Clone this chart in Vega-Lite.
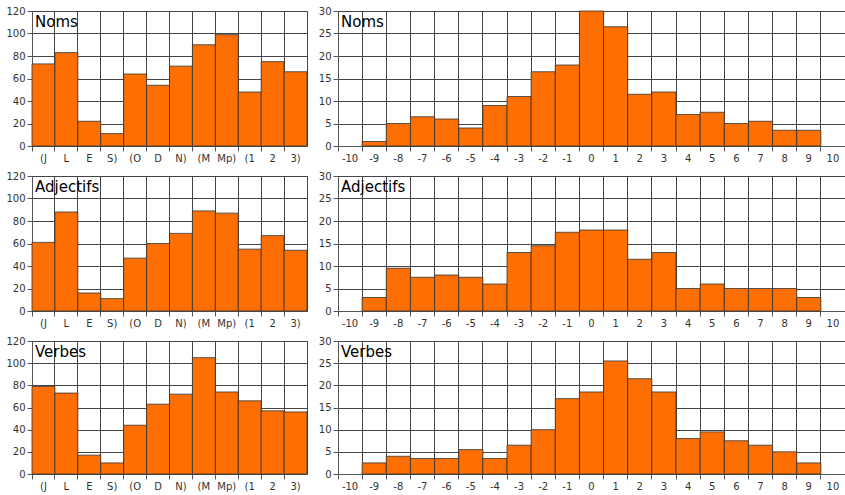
{
  "$schema": "https://vega.github.io/schema/vega-lite/v6.json",
  "padding": {"left": 5, "top": 5, "right": 0, "bottom": 0},
  "background": "white",
  "config": {
    "view": {"stroke": "#444", "strokeWidth": 1},
    "axis": {
      "labelFont": "DejaVu Sans", "labelFontSize": 10, "labelColor": "#333",
      "tickColor": "#555", "domainColor": "#555", "gridColor": "#444", "gridOpacity": 1,
      "labelAngle": 0, "title": null, "tickSize": 5, "labelPadding": 2
    },
    "title": {
      "font": "DejaVu Sans", "fontSize": 15, "fontWeight": "normal", "color": "#000",
      "anchor": "start", "frame": "group", "offset": -24, "dx": 3
    },
    "bar": {"fill": "#ff6e00", "stroke": "#333", "strokeWidth": 0.8}
  },
  "datasets": {
    "cats": [
      {"g": "Noms", "c": "(J", "v": 73}, {"g": "Noms", "c": "L", "v": 83}, {"g": "Noms", "c": "E", "v": 22}, {"g": "Noms", "c": "S)", "v": 11},
      {"g": "Noms", "c": "(O", "v": 64}, {"g": "Noms", "c": "D", "v": 54}, {"g": "Noms", "c": "N)", "v": 71},
      {"g": "Noms", "c": "(M", "v": 90}, {"g": "Noms", "c": "Mp)", "v": 99},
      {"g": "Noms", "c": "(1", "v": 48}, {"g": "Noms", "c": "2", "v": 75}, {"g": "Noms", "c": "3)", "v": 66},
      {"g": "Adjectifs", "c": "(J", "v": 61}, {"g": "Adjectifs", "c": "L", "v": 88}, {"g": "Adjectifs", "c": "E", "v": 16}, {"g": "Adjectifs", "c": "S)", "v": 11},
      {"g": "Adjectifs", "c": "(O", "v": 47}, {"g": "Adjectifs", "c": "D", "v": 60}, {"g": "Adjectifs", "c": "N)", "v": 69},
      {"g": "Adjectifs", "c": "(M", "v": 89}, {"g": "Adjectifs", "c": "Mp)", "v": 87},
      {"g": "Adjectifs", "c": "(1", "v": 55}, {"g": "Adjectifs", "c": "2", "v": 67}, {"g": "Adjectifs", "c": "3)", "v": 54},
      {"g": "Verbes", "c": "(J", "v": 79}, {"g": "Verbes", "c": "L", "v": 73}, {"g": "Verbes", "c": "E", "v": 17}, {"g": "Verbes", "c": "S)", "v": 10},
      {"g": "Verbes", "c": "(O", "v": 44}, {"g": "Verbes", "c": "D", "v": 63}, {"g": "Verbes", "c": "N)", "v": 72},
      {"g": "Verbes", "c": "(M", "v": 105}, {"g": "Verbes", "c": "Mp)", "v": 74},
      {"g": "Verbes", "c": "(1", "v": 66}, {"g": "Verbes", "c": "2", "v": 57}, {"g": "Verbes", "c": "3)", "v": 56}
    ],
    "hist": [
      {"g": "Noms", "x": -9, "v": 1}, {"g": "Noms", "x": -8, "v": 5}, {"g": "Noms", "x": -7, "v": 6.5}, {"g": "Noms", "x": -6, "v": 6},
      {"g": "Noms", "x": -5, "v": 4}, {"g": "Noms", "x": -4, "v": 9}, {"g": "Noms", "x": -3, "v": 11}, {"g": "Noms", "x": -2, "v": 16.5},
      {"g": "Noms", "x": -1, "v": 18}, {"g": "Noms", "x": 0, "v": 30}, {"g": "Noms", "x": 1, "v": 26.5}, {"g": "Noms", "x": 2, "v": 11.5},
      {"g": "Noms", "x": 3, "v": 12}, {"g": "Noms", "x": 4, "v": 7}, {"g": "Noms", "x": 5, "v": 7.5}, {"g": "Noms", "x": 6, "v": 5},
      {"g": "Noms", "x": 7, "v": 5.5}, {"g": "Noms", "x": 8, "v": 3.5}, {"g": "Noms", "x": 9, "v": 3.5},
      {"g": "Adjectifs", "x": -9, "v": 3}, {"g": "Adjectifs", "x": -8, "v": 9.5}, {"g": "Adjectifs", "x": -7, "v": 7.5}, {"g": "Adjectifs", "x": -6, "v": 8},
      {"g": "Adjectifs", "x": -5, "v": 7.5}, {"g": "Adjectifs", "x": -4, "v": 6}, {"g": "Adjectifs", "x": -3, "v": 13}, {"g": "Adjectifs", "x": -2, "v": 14.5},
      {"g": "Adjectifs", "x": -1, "v": 17.5}, {"g": "Adjectifs", "x": 0, "v": 18}, {"g": "Adjectifs", "x": 1, "v": 18}, {"g": "Adjectifs", "x": 2, "v": 11.5},
      {"g": "Adjectifs", "x": 3, "v": 13}, {"g": "Adjectifs", "x": 4, "v": 5}, {"g": "Adjectifs", "x": 5, "v": 6}, {"g": "Adjectifs", "x": 6, "v": 5},
      {"g": "Adjectifs", "x": 7, "v": 5}, {"g": "Adjectifs", "x": 8, "v": 5}, {"g": "Adjectifs", "x": 9, "v": 3},
      {"g": "Verbes", "x": -9, "v": 2.5}, {"g": "Verbes", "x": -8, "v": 4}, {"g": "Verbes", "x": -7, "v": 3.5}, {"g": "Verbes", "x": -6, "v": 3.5},
      {"g": "Verbes", "x": -5, "v": 5.5}, {"g": "Verbes", "x": -4, "v": 3.5}, {"g": "Verbes", "x": -3, "v": 6.5}, {"g": "Verbes", "x": -2, "v": 10},
      {"g": "Verbes", "x": -1, "v": 17}, {"g": "Verbes", "x": 0, "v": 18.5}, {"g": "Verbes", "x": 1, "v": 25.5}, {"g": "Verbes", "x": 2, "v": 21.5},
      {"g": "Verbes", "x": 3, "v": 18.5}, {"g": "Verbes", "x": 4, "v": 8}, {"g": "Verbes", "x": 5, "v": 9.5}, {"g": "Verbes", "x": 6, "v": 7.5},
      {"g": "Verbes", "x": 7, "v": 6.5}, {"g": "Verbes", "x": 8, "v": 5}, {"g": "Verbes", "x": 9, "v": 2.5}
    ]
  },
  "columns": 2,
  "align": "each",
  "spacing": {"row": 6, "column": 9},
  "concat": [
    {
      "title": "Noms", "width": 275, "height": 135,
      "data": {"name": "cats"}, "transform": [{"filter": "datum.g === 'Noms'"}],
      "mark": "bar",
      "encoding": {
        "x": {"field": "c", "type": "nominal", "scale": {"domain": ["(J","L","E","S)","(O","D","N)","(M","Mp)","(1","2","3)"], "paddingInner": 0, "paddingOuter": 0}, "axis": {"bandPosition": 0, "grid": true}},
        "y": {"field": "v", "type": "quantitative", "scale": {"domain": [0, 120], "nice": false}, "axis": {"values": [0,20,40,60,80,100,120], "grid": true}}
      }
    },
    {
      "title": "Noms", "width": 507, "height": 135,
      "data": {"name": "hist"}, "transform": [{"filter": "datum.g === 'Noms'"}],
      "mark": "bar",
      "encoding": {
        "x": {"field": "x", "type": "ordinal", "scale": {"domain": [-10,-9,-8,-7,-6,-5,-4,-3,-2,-1,0,1,2,3,4,5,6,7,8,9,10], "paddingInner": 0, "paddingOuter": 0}, "axis": {"bandPosition": 0, "grid": true}},
        "y": {"field": "v", "type": "quantitative", "scale": {"domain": [0, 30], "nice": false}, "axis": {"values": [0,5,10,15,20,25,30], "grid": true}}
      }
    },
    {
      "title": "Adjectifs", "width": 275, "height": 135,
      "data": {"name": "cats"}, "transform": [{"filter": "datum.g === 'Adjectifs'"}],
      "mark": "bar",
      "encoding": {
        "x": {"field": "c", "type": "nominal", "scale": {"domain": ["(J","L","E","S)","(O","D","N)","(M","Mp)","(1","2","3)"], "paddingInner": 0, "paddingOuter": 0}, "axis": {"bandPosition": 0, "grid": true}},
        "y": {"field": "v", "type": "quantitative", "scale": {"domain": [0, 120], "nice": false}, "axis": {"values": [0,20,40,60,80,100,120], "grid": true}}
      }
    },
    {
      "title": "Adjectifs", "width": 507, "height": 135,
      "data": {"name": "hist"}, "transform": [{"filter": "datum.g === 'Adjectifs'"}],
      "mark": "bar",
      "encoding": {
        "x": {"field": "x", "type": "ordinal", "scale": {"domain": [-10,-9,-8,-7,-6,-5,-4,-3,-2,-1,0,1,2,3,4,5,6,7,8,9,10], "paddingInner": 0, "paddingOuter": 0}, "axis": {"bandPosition": 0, "grid": true}},
        "y": {"field": "v", "type": "quantitative", "scale": {"domain": [0, 30], "nice": false}, "axis": {"values": [0,5,10,15,20,25,30], "grid": true}}
      }
    },
    {
      "title": "Verbes", "width": 275, "height": 133,
      "data": {"name": "cats"}, "transform": [{"filter": "datum.g === 'Verbes'"}],
      "mark": "bar",
      "encoding": {
        "x": {"field": "c", "type": "nominal", "scale": {"domain": ["(J","L","E","S)","(O","D","N)","(M","Mp)","(1","2","3)"], "paddingInner": 0, "paddingOuter": 0}, "axis": {"bandPosition": 0, "grid": true}},
        "y": {"field": "v", "type": "quantitative", "scale": {"domain": [0, 120], "nice": false}, "axis": {"values": [0,20,40,60,80,100,120], "grid": true}}
      }
    },
    {
      "title": "Verbes", "width": 507, "height": 133,
      "data": {"name": "hist"}, "transform": [{"filter": "datum.g === 'Verbes'"}],
      "mark": "bar",
      "encoding": {
        "x": {"field": "x", "type": "ordinal", "scale": {"domain": [-10,-9,-8,-7,-6,-5,-4,-3,-2,-1,0,1,2,3,4,5,6,7,8,9,10], "paddingInner": 0, "paddingOuter": 0}, "axis": {"bandPosition": 0, "grid": true}},
        "y": {"field": "v", "type": "quantitative", "scale": {"domain": [0, 30], "nice": false}, "axis": {"values": [0,5,10,15,20,25,30], "grid": true}}
      }
    }
  ]
}
